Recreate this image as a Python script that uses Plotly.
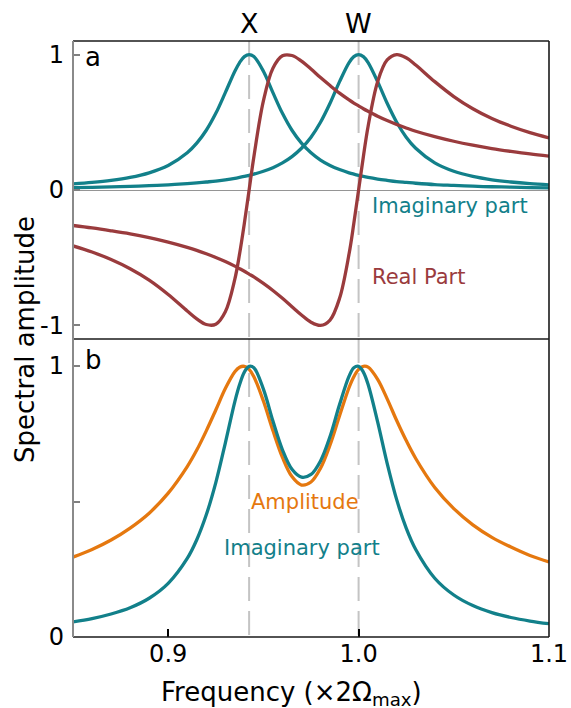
import plotly.graph_objects as go

# Frequency grid (units of 2*Omega_max)
freq = [0.85, 0.86, 0.87, 0.88, 0.89, 0.90, 0.91, 0.915, 0.92, 0.925,
        0.93, 0.935, 0.9375, 0.94, 0.9425, 0.945, 0.95, 0.955, 0.96, 0.965,
        0.97, 0.975, 0.98, 0.985, 0.99, 0.995, 0.9975, 1.0, 1.0025, 1.005,
        1.01, 1.015, 1.02, 1.025, 1.03, 1.04, 1.05, 1.06, 1.07, 1.08,
        1.09, 1.10]

# Panel a: imaginary and real parts of the X and W modes
imag_x = [0.045, 0.056, 0.071, 0.093, 0.127, 0.181, 0.275, 0.346, 0.441, 0.566,
          0.719, 0.877, 0.941, 0.985, 1.0, 0.985, 0.877, 0.719, 0.566, 0.441,
          0.346, 0.275, 0.221, 0.181, 0.151, 0.127, 0.117, 0.108, 0.100, 0.093,
          0.081, 0.071, 0.062, 0.056, 0.050, 0.040, 0.034, 0.028, 0.024, 0.021,
          0.018, 0.016]
real_x = [-0.413, -0.458, -0.513, -0.581, -0.665, -0.771, -0.893, -0.951, -0.993, -0.991,
          -0.899, -0.658, -0.471, -0.246, 0.0, 0.246, 0.658, 0.899, 0.991, 0.993,
          0.951, 0.893, 0.830, 0.771, 0.715, 0.665, 0.642, 0.621, 0.600, 0.581,
          0.545, 0.513, 0.484, 0.458, 0.434, 0.394, 0.360, 0.331, 0.306, 0.285,
          0.266, 0.250]
imag_w = [0.0175, 0.020, 0.023, 0.027, 0.032, 0.0385, 0.047, 0.0525, 0.059, 0.066,
          0.0755, 0.0865, 0.093, 0.100, 0.108, 0.117, 0.138, 0.165, 0.200, 0.246,
          0.308, 0.390, 0.500, 0.640, 0.800, 0.941, 0.985, 1.0, 0.985, 0.941,
          0.800, 0.640, 0.500, 0.390, 0.308, 0.200, 0.138, 0.100, 0.0755, 0.059,
          0.047, 0.0385]
real_w = [-0.262, -0.280, -0.301, -0.324, -0.352, -0.385, -0.424, -0.446, -0.471, -0.498,
          -0.528, -0.562, -0.581, -0.600, -0.621, -0.642, -0.690, -0.742, -0.800, -0.862,
          -0.923, -0.976, -1.0, -0.960, -0.800, -0.471, -0.246, 0.0, 0.246, 0.471,
          0.800, 0.960, 1.0, 0.976, 0.923, 0.800, 0.690, 0.600, 0.528, 0.471,
          0.424, 0.385]

# Panel b: combined imaginary part and amplitude
imag_total = [0.056, 0.068, 0.085, 0.108, 0.143, 0.198, 0.290, 0.359, 0.451, 0.570,
              0.716, 0.869, 0.932, 0.978, 0.999, 0.994, 0.915, 0.797, 0.691, 0.619,
              0.590, 0.600, 0.650, 0.740, 0.858, 0.963, 0.994, 0.999, 0.978, 0.932,
              0.794, 0.641, 0.507, 0.402, 0.323, 0.217, 0.155, 0.116, 0.090, 0.072,
              0.059, 0.049]
amplitude = [0.295, 0.323, 0.358, 0.402, 0.457, 0.531, 0.629, 0.690, 0.761, 0.838,
             0.917, 0.979, 0.996, 0.999, 0.988, 0.961, 0.871, 0.762, 0.663, 0.592,
             0.561, 0.572, 0.623, 0.709, 0.817, 0.921, 0.961, 0.988, 0.999, 0.996,
             0.951, 0.879, 0.799, 0.725, 0.659, 0.552, 0.474, 0.414, 0.368, 0.332,
             0.301, 0.277]

mode_names = ["X", "W"]
mode_freqs = [0.9425, 1.0]

x_ticks = [0.9, 1.0, 1.1]
x_ticklabels = ["0.9", "1.0", "1.1"]
ya_ticks = [-1, 0, 1]
ya_ticklabels = ["-1", "0", "1"]
yb_ticks = [0, 1]
yb_ticklabels = ["0", "1"]
yb_minor_ticks = [0.5]

TEAL = "#12808a"
RED = "#9a3b3d"
ORANGE = "#e5780f"
FONT = "DejaVu Sans"
LW = 3.3


def curve(y, color, xa, ya):
    return go.Scatter(x=freq, y=y, mode="lines", xaxis=xa, yaxis=ya,
                      line=dict(color=color, width=LW, shape="spline", smoothing=1.0),
                      hoverinfo="skip", showlegend=False)


fig = go.Figure()
# panel a
fig.add_trace(curve(imag_x, TEAL, "x2", "y"))
fig.add_trace(curve(imag_w, TEAL, "x2", "y"))
fig.add_trace(curve(real_x, RED, "x2", "y"))
fig.add_trace(curve(real_w, RED, "x2", "y"))
# panel b
fig.add_trace(curve(amplitude, ORANGE, "x", "y2"))
fig.add_trace(curve(imag_total, TEAL, "x", "y2"))

shapes = []
# mode markers in both panels
for f in mode_freqs:
    for yd in ["y domain", "y2 domain"]:
        shapes.append(dict(type="line", xref="x", yref=yd, x0=f, x1=f, y0=1, y1=0,
                           line=dict(color="#c4c4c4", width=2, dash="24px,10px"),
                           layer="below"))
# frame
dark = dict(color="#1a1a1a", width=1.6)
shapes += [
    dict(type="line", xref="paper", yref="paper", x0=0, x1=1, y0=1, y1=1, line=dark),
    dict(type="line", xref="paper", yref="paper", x0=1, x1=1, y0=0, y1=1, line=dark),
    dict(type="line", xref="paper", yref="paper", x0=0, x1=1, y0=0.5, y1=0.5, line=dark),
    dict(type="line", xref="paper", yref="paper", x0=0, x1=1, y0=0, y1=0, line=dark),
    dict(type="line", xref="paper", yref="paper", x0=0, x1=0, y0=0, y1=1,
         line=dict(color="#8a8a8a", width=2)),
]

annotations = []
for name, f in zip(mode_names, mode_freqs):
    annotations.append(dict(text=name, x=f, xref="x", y=1.03, yref="paper",
                            xanchor="center", yanchor="middle", showarrow=False,
                            font=dict(family=FONT, size=27, color="black")))
annotations += [
    dict(text="a", x=0.022, xref="x domain", y=0.945, yref="y domain",
         xanchor="left", yanchor="middle", showarrow=False,
         font=dict(family=FONT, size=26, color="black")),
    dict(text="b", x=0.022, xref="x domain", y=0.93, yref="y2 domain",
         xanchor="left", yanchor="middle", showarrow=False,
         font=dict(family=FONT, size=26, color="black")),
    dict(text="Imaginary part", x=1.006, xref="x2", y=-0.12, yref="y",
         xanchor="left", yanchor="middle", showarrow=False,
         font=dict(family=FONT, size=21, color=TEAL)),
    dict(text="Real Part", x=1.006, xref="x2", y=-0.64, yref="y",
         xanchor="left", yanchor="middle", showarrow=False,
         font=dict(family=FONT, size=21, color=RED)),
    dict(text="Amplitude", x=0.9422, xref="x", y=0.50, yref="y2",
         xanchor="left", yanchor="middle", showarrow=False,
         font=dict(family=FONT, size=21, color=ORANGE)),
    dict(text="Imaginary part", x=0.9285, xref="x", y=0.33, yref="y2",
         xanchor="left", yanchor="middle", showarrow=False,
         font=dict(family=FONT, size=21, color=TEAL)),
    dict(text="Frequency (×2Ω<sub>max</sub>)", x=0.458, xref="paper", y=-0.094, yref="paper",
         xanchor="center", yanchor="middle", showarrow=False,
         font=dict(family=FONT, size=26, color="black")),
    dict(text="Spectral amplitude", x=-0.101, xref="paper", y=0.5, yref="paper",
         xanchor="center", yanchor="middle", showarrow=False, textangle=-90,
         font=dict(family=FONT, size=26, color="black")),
]

common_y = dict(showgrid=False, ticks="inside", ticklen=7, tickwidth=1.5,
                tickcolor="#808080", showline=False, automargin=False,
                ticklabelstandoff=8,
                tickfont=dict(family=FONT, size=24, color="black"))

fig.update_layout(
    width=571, height=708,
    margin=dict(l=73, r=22, t=41, b=71, autoexpand=False),
    paper_bgcolor="white", plot_bgcolor="white",
    shapes=shapes, annotations=annotations,
    xaxis=dict(domain=[0, 1], anchor="y2", range=[0.85, 1.1],
               tickvals=x_ticks, ticktext=x_ticklabels, ticks="inside",
               ticklen=8, tickwidth=1.5, tickcolor="black", showgrid=False,
               zeroline=False, showline=False, automargin=False,
               tickfont=dict(family=FONT, size=24, color="black")),
    xaxis2=dict(domain=[0, 1], anchor="y", matches="x", range=[0.85, 1.1],
                showticklabels=False, ticks="", showgrid=False, zeroline=False,
                showline=False, automargin=False),
    yaxis=dict(domain=[0.5, 1], anchor="x2", range=[-1.1, 1.1],
               tickvals=ya_ticks, ticktext=ya_ticklabels,
               zeroline=True, zerolinecolor="#959595", zerolinewidth=1.2,
               **common_y),
    yaxis2=dict(domain=[0, 0.5], anchor="x", range=[0, 1.1],
                tickvals=yb_ticks, ticktext=yb_ticklabels, zeroline=False,
                minor=dict(tickvals=yb_minor_ticks, ticks="inside", ticklen=7,
                           tickwidth=1.5, tickcolor="#808080", showgrid=False),
                **common_y),
)

fig.write_html("out.html")
